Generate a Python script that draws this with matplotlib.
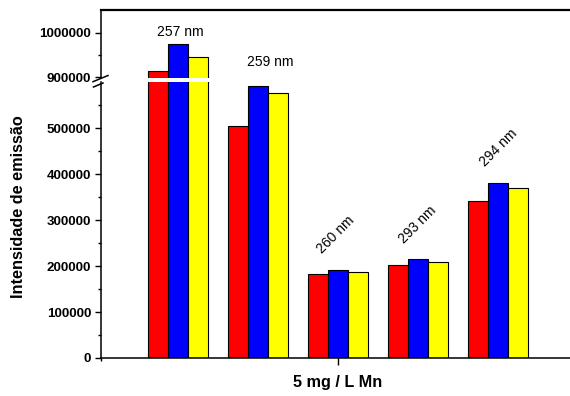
import matplotlib.pyplot as plt
import numpy as np
from matplotlib.ticker import FormatStrFormatter, FixedLocator
from matplotlib.lines import Line2D

plt.rcParams['font.family'] = ['Liberation Sans', 'DejaVu Sans']

# emission intensity per excitation line, three replicates
lines = ['257 nm', '259 nm', '260 nm', '293 nm', '294 nm']
red = [914000, 506000, 182000, 202000, 342000]
blue = [974000, 593000, 192000, 216000, 382000]
yellow = [946000, 576000, 187000, 208000, 371000]
series = [red, blue, yellow]
colors = ['#ff0000', '#0000ff', '#ffff00']

# label placement relative to the tallest bar of each group (pixels)
lab_dx = [2, 12, -2, 0, 1]
lab_dy = [12, 24, 35, 34, 35]
lab_rot = [0, 0, 45, 45, 45]

W, H = 570, 396
fig = plt.figure(figsize=(W / 100, H / 100), dpi=100)

left = 101 / W
lo = fig.add_axes([left, 1 - 358 / H, 1 - left, (358 - 82.4) / H])
hi = fig.add_axes([left, 1 - 78.3 / H, 1 - left, (78.3 - 10) / H], sharex=lo)
hi.patch.set_visible(False)

x = np.arange(1, len(lines) + 1)
w = 0.25
for ax in (lo, hi):
    for k, (vals, c) in enumerate(zip(series, colors)):
        ax.bar(x + (k - 1) * w, vals, w, color=c, edgecolor='black', linewidth=0.8)

lo.set_ylim(0, 600000)
hi.set_ylim(897800, 1051000)
lo.set_xlim(0.034, 5.9)

lo.yaxis.set_major_locator(FixedLocator(np.arange(0, 500001, 100000)))
lo.yaxis.set_minor_locator(FixedLocator(np.arange(50000, 550001, 100000)))
hi.yaxis.set_major_locator(FixedLocator([900000, 1000000]))
hi.yaxis.set_minor_locator(FixedLocator([950000]))

for ax in (lo, hi):
    ax.spines['right'].set_visible(False)
    for s in ax.spines.values():
        s.set_linewidth(1.1)
    ax.yaxis.set_major_formatter(FormatStrFormatter('%d'))
    ax.tick_params(axis='y', which='major', direction='out', length=4.3, width=1,
                   pad=2.8, labelsize=9.6)
    ax.tick_params(axis='y', which='minor', direction='out', length=2.4, width=1)
    for t in ax.get_yticklabels():
        t.set_fontweight('bold')

lo.spines['top'].set_visible(False)
hi.spines['bottom'].set_visible(False)
hi.spines['top'].set_linewidth(1.6)
hi.tick_params(axis='x', which='both', bottom=False, labelbottom=False)

lo.xaxis.set_major_locator(FixedLocator([3]))
lo.xaxis.set_minor_locator(FixedLocator([0.034]))
lo.tick_params(axis='x', which='major', length=5, width=1, labelbottom=False)
lo.tick_params(axis='x', which='minor', length=2.4, width=1)

lo.set_xlabel('5 mg / L Mn', fontsize=11.7, fontweight='bold')
lo.xaxis.set_label_coords((338 - 101) / (W - 101), -(383 - 358) / 275.6)
lo.xaxis.label.set_va('center')
lo.set_ylabel('Intensidade de emissão', fontsize=11.7, fontweight='bold')
lo.yaxis.set_label_coords((18.5 - 101) / (W - 101), (358 - 206.5) / 275.6)
lo.yaxis.label.set_va('center')

# wavelength labels above each group
for i, lab in enumerate(lines):
    top = max(s[i] for s in series)
    ax = hi if top > hi.get_ylim()[0] else lo
    ax.annotate(lab, (x[i], top), xytext=(lab_dx[i], lab_dy[i]),
                textcoords='offset pixels', ha='center', va='center',
                rotation=lab_rot[i], fontsize=10, annotation_clip=False)

# break marks on the y axis
for (x0, y0, x1, y1) in [(93, 81.7, 108, 75.5), (93.5, 87, 103, 83)]:
    fig.add_artist(Line2D([x0 / W, x1 / W], [1 - y0 / H, 1 - y1 / H],
                          color='black', linewidth=1.1))

fig.savefig('out.png', dpi=100)
